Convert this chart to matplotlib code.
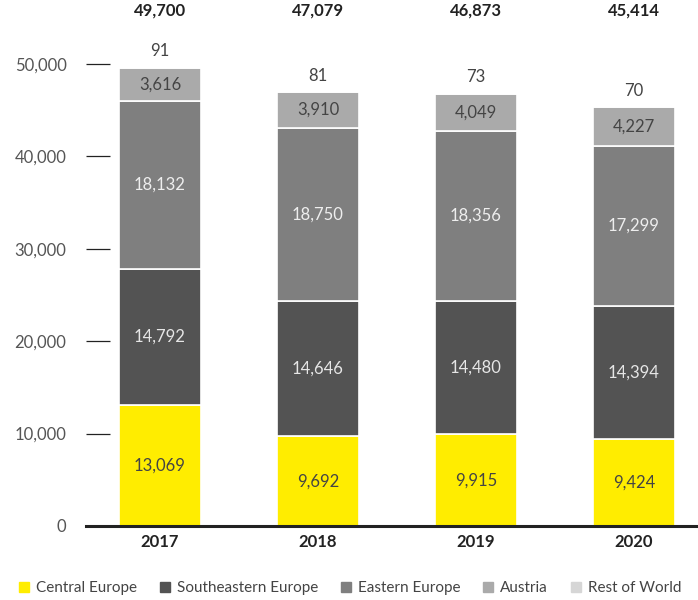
import numpy as np
import matplotlib.pyplot as plt
from matplotlib.lines import Line2D

plt.rcParams['font.family'] = ['Lato', 'DejaVu Sans']

years = ['2017', '2018', '2019', '2020']
regions = ['Central Europe', 'Southeastern Europe', 'Eastern Europe', 'Austria', 'Rest of World']
central = [13069, 9692, 9915, 9424]
southeast = [14792, 14646, 14480, 14394]
eastern = [18132, 18750, 18356, 17299]
austria = [3616, 3910, 4049, 4227]
rest = [91, 81, 73, 70]

colors = ['#ffed00', '#535353', '#7f7f7f', '#aaaaaa', '#d6d6d6']
label_colors = ['#444444', '#e6e6e6', '#eeeeee', '#444444', '#444444']

series = [central, southeast, eastern, austria, rest]

fig = plt.figure(figsize=(6.98, 6.0), dpi=100)
ax = fig.add_axes([86/698, 74/600, 612/698, 480.5/600])

x = np.arange(len(years))
bottom = np.zeros(len(years))
for vals, col, lc, name in zip(series, colors, label_colors, regions):
    vals = np.array(vals, dtype=float)
    ax.bar(x, vals, 0.52, bottom=bottom, color=col, edgecolor='white', linewidth=1.2, label=name)
    if name != 'Rest of World':
        for xi, b, v in zip(x, bottom, vals):
            ax.text(xi, b + v/2, f'{int(v):,}', ha='center', va='center', fontsize=12, color=lc)
    bottom += vals

# small top segment labelled above the bar
for xi, t, v in zip(x, bottom, rest):
    ax.text(xi, t + 800, f'{v:,}', ha='center', va='bottom', fontsize=12, color='#444444')

# totals above each bar
for xi, t in zip(x, bottom):
    ax.text(xi, 1.0 + 35/480.5, f'{int(t):,}', transform=ax.get_xaxis_transform(),
            ha='center', va='center', fontsize=12, fontweight='bold', color='#222222')

ax.set_xlim(-0.468, 3.405)
ax.set_ylim(0, 52000)
ax.set_yticks(np.arange(0, 50001, 10000))
ax.set_yticklabels([f'{v:,}' for v in range(0, 50001, 10000)], fontsize=12, color='#555555')
ax.tick_params(axis='y', direction='in', length=17.5, width=0.9, color='#222222', pad=14)
ax.set_xticks(x)
ax.set_xticklabels(years, fontsize=12, fontweight='bold', color='#222222')
ax.tick_params(axis='x', length=0, pad=6)

for s in ['top', 'right', 'left']:
    ax.spines[s].set_visible(False)
ax.spines['bottom'].set_linewidth(2.2)
ax.spines['bottom'].set_color('#222222')

handles = [Line2D([], [], marker='s', linestyle='none', markersize=7, markerfacecolor=c,
                  markeredgecolor=c) for c in colors]
fig.legend(handles, regions, loc='lower center', bbox_to_anchor=(0.5, -0.015), ncol=5,
           frameon=False, fontsize=11, handletextpad=0.3, columnspacing=1.3,
           handlelength=1.0, labelcolor='#444444')

fig.savefig('out.png', dpi=100)
